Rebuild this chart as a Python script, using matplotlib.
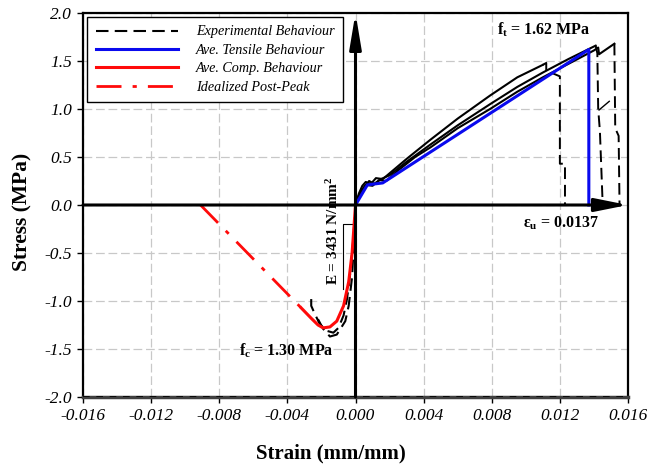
import matplotlib
matplotlib.use('Agg')
import matplotlib.pyplot as plt
from matplotlib.lines import Line2D

# ---------------- data ----------------
xticks = [-0.016, -0.012, -0.008, -0.004, 0.000, 0.004, 0.008, 0.012, 0.016]
xtick_labels = ['-0.016', '-0.012', '-0.008', '-0.004', '0.000', '0.004', '0.008', '0.012', '0.016']
yticks = [-2.0, -1.5, -1.0, -0.5, 0.0, 0.5, 1.0, 1.5, 2.0]
ytick_labels = ['-2.0', '-1.5', '-1.0', '-0.5', '0.0', '0.5', '1.0', '1.5', '2.0']

# experimental tensile curves (rising part then post-peak drop)
exp1_strain = [0, 0.0002, 0.0004, 0.0006, 0.0009, 0.0012, 0.0016, 0.0020, 0.0030, 0.0044,
               0.0060, 0.0079, 0.0095, 0.0110, 0.0112, 0.0112, 0.0116, 0.0120, 0.0120, 0.0123,
               0.0123, 0.0130]
exp1_stress = [0, 0.12, 0.20, 0.24, 0.22, 0.28, 0.27, 0.33, 0.48, 0.68,
               0.90, 1.14, 1.33, 1.46, 1.48, 1.40, 1.37, 1.34, 0.43, 0.43,
               0.0, 0.0]
exp1_peak = 14

exp2_strain = [0, 0.0002, 0.0005, 0.0008, 0.0011, 0.0015, 0.0020, 0.0030, 0.0044, 0.0060,
               0.0079, 0.0095, 0.0110, 0.0125, 0.0141, 0.0142, 0.01425, 0.01435, 0.0145, 0.0145]
exp2_stress = [0, 0.10, 0.18, 0.25, 0.22, 0.27, 0.31, 0.45, 0.63, 0.83,
               1.05, 1.23, 1.38, 1.52, 1.66, 1.58, 1.00, 0.77, 0.07, 0.0]
exp2_peak = 15
exp2b_strain = [0.01430, 0.01490]
exp2b_stress = [0.99, 1.08]

exp3_strain = [0, 0.0003, 0.0006, 0.0010, 0.0014, 0.0018, 0.0025, 0.0035, 0.0044, 0.0060,
               0.0079, 0.0095, 0.0110, 0.0125, 0.0140, 0.01425, 0.01430, 0.0152, 0.01525, 0.01545,
               0.0155, 0.0155]
exp3_stress = [0, 0.14, 0.21, 0.20, 0.26, 0.25, 0.36, 0.50, 0.60, 0.80,
               1.00, 1.18, 1.33, 1.47, 1.61, 1.64, 1.57, 1.68, 0.80, 0.72,
               0.04, 0.0]
exp3_peak = 18

# experimental compressive curves
expc1_strain = [-0.0026, -0.0026, -0.0024, -0.0021, -0.0017, -0.0013, -0.0010, -0.0007,
                -0.0005, -0.0003, -0.00015, 0]
expc1_stress = [-0.98, -1.05, -1.13, -1.24, -1.31, -1.33, -1.28, -1.15, -0.98, -0.70, -0.40, 0]
expc2_strain = [-0.0022, -0.0019, -0.0015, -0.0011, -0.0006, -0.0004, -0.0002, -0.0001, 0]
expc2_stress = [-1.19, -1.29, -1.37, -1.35, -1.21, -1.05, -0.75, -0.40, 0]

# average tensile behaviour
tens_strain = [0, 0.0007, 0.0016, 0.0137, 0.0137]
tens_stress = [0, 0.21, 0.23, 1.62, 0]

# average compressive behaviour
comp_strain = [-0.0032, -0.0026, -0.0022, -0.0019, -0.0015, -0.0011, -0.0007, -0.0004,
               -0.0002, -0.0001, 0]
comp_stress = [-1.07, -1.18, -1.25, -1.28, -1.27, -1.21, -1.05, -0.80, -0.50, -0.25, 0]

# idealized post-peak
post_strain = [-0.0091, -0.0032]
post_stress = [0.0, -1.07]

# modulus indicator box
box_strain = [-0.00018, -0.00076, -0.00076]
box_stress = [-0.20, -0.20, -0.88]

legend_labels = ['Experimental Behaviour', 'Ave. Tensile Behaviour',
                 'Ave. Comp. Behaviour', 'Idealized Post-Peak']

# ---------------- style ----------------
plt.rcParams['font.family'] = ['Liberation Serif', 'DejaVu Serif']
plt.rcParams['mathtext.fontset'] = 'custom'
plt.rcParams['mathtext.rm'] = 'Liberation Serif:bold'
plt.rcParams['mathtext.bf'] = 'Liberation Serif:bold'
plt.rcParams['mathtext.it'] = 'Liberation Serif:bold'

W, H = 647, 470
fig = plt.figure(figsize=(W / 100, H / 100), dpi=100)
ax = fig.add_axes([83 / W, 1 - 397 / H, 545 / W, 384 / H])
ax.set_xlim(-0.016, 0.016)
ax.set_ylim(-2.0, 2.0)

ax.grid(True, color='#c8c8c8', linestyle=(0, (7, 3)), linewidth=0.9, zorder=0)
ax.set_axisbelow(True)

dash = (0, (6, 3))
for xs, ys, k in [(exp1_strain, exp1_stress, exp1_peak),
                  (exp2_strain, exp2_stress, exp2_peak),
                  (exp3_strain, exp3_stress, exp3_peak)]:
    ax.plot(xs[:k], ys[:k], color='black', lw=1.5, zorder=3)
    ax.plot(xs[k - 1:], ys[k - 1:], color='black', lw=1.4, linestyle=dash, zorder=3)
ax.plot(exp2b_strain, exp2b_stress, color='black', lw=1.0, zorder=3)
ax.plot(expc1_strain, expc1_stress, color='black', lw=1.5, linestyle=dash, zorder=3)
ax.plot(expc2_strain, expc2_stress, color='black', lw=1.5, linestyle=dash, zorder=3)

ax.plot(tens_strain, tens_stress, color='#0a0aee', lw=2.2, zorder=4)
ax.plot(comp_strain, comp_stress, color='#ff0a0a', lw=2.2, zorder=4)
ax.plot(post_strain, post_stress, color='#ff0a0a', lw=2.0,
        linestyle=(0, (9, 4, 1.5, 4)), zorder=4)
ax.plot(box_strain, box_stress, color='black', lw=0.8, zorder=3)

# axes through origin with arrows
ax.annotate('', xy=(0.016, 0.0), xytext=(-0.016, 0.0),
            arrowprops=dict(arrowstyle='-|>,head_length=2.0,head_width=0.4',
                            mutation_scale=10, lw=2.2, color='black',
                            shrinkA=0, shrinkB=0), zorder=5)
ax.annotate('', xy=(0.0, 2.0), xytext=(0.0, -2.0),
            arrowprops=dict(arrowstyle='-|>,head_length=2.1,head_width=0.35',
                            mutation_scale=10, lw=2.2, color='black',
                            shrinkA=0, shrinkB=0), zorder=5)
ax.axhline(-2.0, color='black', lw=1.2, linestyle=(0, (4, 4)), zorder=5)

# annotations
ax.text(0.01104, 1.83, r'$\mathbf{f}_{\mathbf{t}}$ = 1.62 MPa', fontsize=11.5,
        fontweight='bold', ha='center', va='center')
ax.text(-0.00405, -1.52, r'$\mathbf{f}_{\mathbf{c}}$ = 1.30 MPa', fontsize=11.5,
        fontweight='bold', ha='center', va='center')
ax.text(0.0121, -0.19, r'$\mathbf{\varepsilon}_{\mathbf{u}}$ = 0.0137', fontsize=11.5,
        fontweight='bold', ha='center', va='center')
ax.text(-0.0013, -0.27, r'E = 3431 N/mm$^{\mathbf{2}}$', fontsize=11,
        fontweight='bold', ha='center', va='center', rotation=90)

# ticks
ax.set_xticks(xticks)
ax.set_xticklabels(xtick_labels, fontstyle='italic', fontsize=12.5)
ax.set_yticks(yticks)
ax.set_yticklabels(ytick_labels, fontstyle='italic', fontsize=12.5)
ax.tick_params(direction='out', length=4, width=1, pad=4, color='black')

for s in ['left', 'top', 'right']:
    ax.spines[s].set_linewidth(1.6)
ax.spines['bottom'].set_linewidth(2.5)
ax.spines['bottom'].set_color('#404040')

fig.text(331 / W, 1 - 453 / H, 'Strain (mm/mm)', fontsize=15, fontweight='bold',
         ha='center', va='center')
fig.text(22 / W, 1 - 212 / H, 'Stress (MPa)', fontsize=15.5, fontweight='bold',
         ha='center', va='center', rotation=90)

handles = [Line2D([], [], color='black', lw=1.5, linestyle=(0, (6, 3))),
           Line2D([], [], color='#0a0aee', lw=2.2),
           Line2D([], [], color='#ff0a0a', lw=2.2),
           Line2D([], [], color='#ff0a0a', lw=2.0, linestyle=(0, (9, 4, 1.5, 4)))]
leg = ax.legend(handles, legend_labels, loc='upper left',
                bbox_to_anchor=(4 / 545, 1 - 4 / 384), borderaxespad=0,
                prop={'style': 'italic', 'size': 10.2}, handlelength=5.8,
                handletextpad=1.3, labelspacing=0.38, borderpad=0.6,
                fancybox=False, framealpha=1, edgecolor='black')
leg.get_frame().set_linewidth(1.0)
leg.set_zorder(6)

fig.savefig('out.png', dpi=100)
